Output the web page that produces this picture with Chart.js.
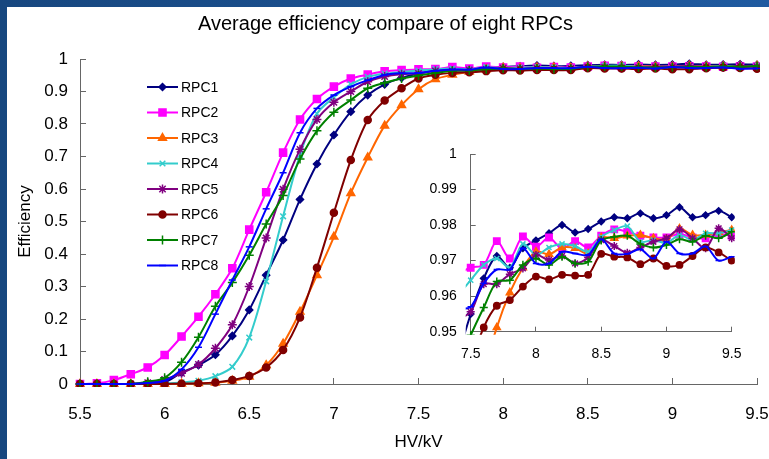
<!DOCTYPE html>
<html>
<head>
<meta charset="utf-8">
<script src="https://cdn.jsdelivr.net/npm/chart.js@4.4.1/dist/chart.umd.min.js"></script>
<style>
  html, body { margin: 0; padding: 0; }
  body { width: 769px; height: 459px; position: relative; overflow: hidden;
         background: linear-gradient(90deg, #17477f, #1f5aa0); }
  #panel { position: absolute; left: 7px; top: 7px; width: 762px; height: 452px; background: #fff; }
  #main { position: absolute; left: 0; top: 0; }
  #inset { position: absolute; left: 400px; top: 140px; }
</style>
</head>
<body>
<div id="panel"></div>
<canvas id="main" width="769" height="459"></canvas>
<canvas id="inset" width="345" height="230"></canvas>
<script>
// HV in kV, one point every 0.1 kV
const hv = [5.5, 5.6, 5.7, 5.8, 5.9, 6.0, 6.1, 6.2, 6.3, 6.4,
            6.5, 6.6, 6.7, 6.8, 6.9, 7.0, 7.1, 7.2, 7.3, 7.4,
            7.5, 7.6, 7.7, 7.8, 7.9, 8.0, 8.1, 8.2, 8.3, 8.4,
            8.5, 8.6, 8.7, 8.8, 8.9, 9.0, 9.1, 9.2, 9.3, 9.4, 9.5];

const rpc1 = [0, 0, 0, 0, 0.002, 0.005, 0.035, 0.058, 0.09, 0.148,
              0.228, 0.335, 0.443, 0.568, 0.677, 0.766, 0.838, 0.889, 0.922, 0.942,
              0.955, 0.965, 0.9713, 0.968, 0.9735, 0.9757, 0.9777, 0.98, 0.9779, 0.9789,
              0.981, 0.9822, 0.9819, 0.9833, 0.9819, 0.9828, 0.985, 0.9822, 0.9828, 0.984, 0.9822];
const rpc2 = [0, 0.002, 0.012, 0.03, 0.051, 0.089, 0.146, 0.207, 0.276, 0.356,
              0.475, 0.59, 0.712, 0.814, 0.877, 0.915, 0.94, 0.952, 0.962, 0.966,
              0.968, 0.9688, 0.9755, 0.9706, 0.9768, 0.9739, 0.9765, 0.9733, 0.9755, 0.9737,
              0.977, 0.9788, 0.9781, 0.977, 0.9765, 0.9765, 0.9775, 0.9765, 0.9763, 0.9775, 0.977];
const rpc3 = [0, 0, 0, 0, 0, 0, 0.001, 0.002, 0.004, 0.01,
              0.022, 0.058, 0.124, 0.222, 0.335, 0.453, 0.587, 0.697, 0.795, 0.858,
              0.907, 0.938, 0.9512, 0.961, 0.968, 0.9725, 0.9718, 0.9737, 0.9735, 0.972,
              0.9765, 0.9763, 0.977, 0.9772, 0.9763, 0.976, 0.979, 0.9772, 0.9772, 0.978, 0.9786];
const rpc4 = [0, 0, 0, 0, 0, 0.002, 0.005, 0.01, 0.024, 0.053,
              0.143, 0.316, 0.516, 0.705, 0.832, 0.882, 0.922, 0.945, 0.955, 0.96,
              0.9645, 0.9688, 0.9706, 0.968, 0.9747, 0.9716, 0.9737, 0.9747, 0.9741, 0.9725,
              0.9767, 0.9786, 0.9797, 0.9753, 0.9758, 0.975, 0.9772, 0.9758, 0.9777, 0.9777, 0.9786];
const rpc5 = [0, 0, 0, 0, 0.004, 0.014, 0.033, 0.06, 0.11, 0.182,
              0.3, 0.449, 0.599, 0.722, 0.814, 0.867, 0.9, 0.93, 0.946, 0.953,
              0.9556, 0.9634, 0.9634, 0.9662, 0.9678, 0.9716, 0.9702, 0.9713, 0.9692, 0.9709,
              0.9758, 0.9741, 0.9722, 0.9737, 0.9753, 0.9763, 0.9788, 0.9763, 0.9735, 0.9791, 0.9763];
const rpc6 = [0, 0, 0, 0, 0, 0, 0.001, 0.002, 0.005, 0.012,
              0.025, 0.051, 0.105, 0.205, 0.358, 0.527, 0.689, 0.812, 0.872, 0.91,
              0.94, 0.9512, 0.9573, 0.9589, 0.9627, 0.9655, 0.9647, 0.966, 0.9658, 0.966,
              0.9719, 0.9711, 0.9709, 0.969, 0.9706, 0.9685, 0.9688, 0.9713, 0.9737, 0.9723, 0.97];
const rpc7 = [0, 0, 0, 0, 0.007, 0.019, 0.067, 0.144, 0.239, 0.312,
              0.396, 0.492, 0.58, 0.692, 0.779, 0.836, 0.874, 0.91, 0.927, 0.94,
              0.949, 0.9568, 0.9641, 0.9645, 0.9688, 0.9706, 0.9688, 0.9711, 0.9692, 0.9697,
              0.9757, 0.9767, 0.977, 0.9747, 0.9737, 0.9744, 0.976, 0.9753, 0.977, 0.9763, 0.9781];
const rpc8 = [0, 0, 0, 0, 0.003, 0.01, 0.045, 0.113, 0.215, 0.32,
              0.422, 0.539, 0.65, 0.773, 0.848, 0.889, 0.915, 0.935, 0.951, 0.956,
              0.957, 0.9636, 0.9675, 0.9675, 0.9735, 0.9692, 0.9692, 0.9725, 0.972, 0.9716,
              0.976, 0.972, 0.9719, 0.9732, 0.9706, 0.9753, 0.972, 0.972, 0.974, 0.97, 0.9711];

const names = ['RPC1', 'RPC2', 'RPC3', 'RPC4', 'RPC5', 'RPC6', 'RPC7', 'RPC8'];
const values = [rpc1, rpc2, rpc3, rpc4, rpc5, rpc6, rpc7, rpc8];
const colors = ['#000080', '#ff00ff', '#ff6600', '#33cccc', '#800080', '#800000', '#008000', '#0000ff'];
const markers = ['rectRot', 'rect', 'triangle', 'crossRot', 'star', 'circle', 'cross', 'line'];
const sizes = [3.5, 5, 4.5, 4, 4.5, 3.5, 4.5, 3.5];

Chart.defaults.font.family = "'Liberation Sans', Arial, sans-serif";
Chart.defaults.color = '#000';

function makeDatasets(scale) {
  return names.map((name, i) => ({
    label: name,
    data: hv.map((x, j) => ({ x: x, y: values[i][j] })),
    borderColor: colors[i],
    backgroundColor: colors[i],
    pointBackgroundColor: colors[i],
    pointBorderColor: colors[i],
    borderWidth: 2,
    pointStyle: markers[i],
    pointRadius: sizes[i] * scale,
    pointBorderWidth: 1.5,
    tension: 0.3,
    order: 8 - i,
    clip: { left: 5, top: 0, right: 3, bottom: 3 }
  }));
}

// plain number labels: 1, 0.9, 6, 6.5 ...
const plain = v => String(Math.round(v * 1000) / 1000);

// legend box inside the plot, like the Excel one
const plotLegend = {
  id: 'plotLegend',
  afterDraw(chart) {
    const ctx = chart.ctx;
    ctx.save();
    ctx.font = "14px 'Liberation Sans', Arial, sans-serif";
    ctx.textBaseline = 'middle';
    names.forEach((name, i) => {
      const y = 87 + i * 25.5;
      ctx.strokeStyle = colors[i];
      ctx.fillStyle = colors[i];
      ctx.lineWidth = 2;
      ctx.beginPath();
      ctx.moveTo(147, y);
      ctx.lineTo(178, y);
      ctx.stroke();
      ctx.lineWidth = 1.5;
      Chart.helpers.drawPoint(ctx, { pointStyle: markers[i], radius: sizes[i], rotation: 0, borderWidth: 1.5 }, 162.5, y);
      ctx.fillStyle = '#000';
      ctx.fillText(name, 181, y + 1);
    });
    ctx.restore();
  }
};

const axisColor = '#666';

new Chart(document.getElementById('main'), {
  type: 'line',
  data: { datasets: makeDatasets(1) },
  options: {
    responsive: false,
    animation: false,
    layout: { padding: { left: 14, top: 8, right: 12, bottom: 0 } },
    plugins: {
      legend: { display: false },
      tooltip: { enabled: false },
      title: {
        display: true,
        text: 'Average efficiency compare of eight RPCs',
        font: { size: 20, weight: 'normal' },
        color: '#000',
        padding: { top: 4, bottom: 23 }
      }
    },
    scales: {
      x: {
        type: 'linear', min: 5.5, max: 9.5,
        ticks: { stepSize: 0.5, padding: 26, maxRotation: 0, font: { size: 17 }, callback: plain },
        grid: { drawOnChartArea: false, tickLength: -6, color: axisColor },
        border: { color: axisColor },
        title: { display: true, text: 'HV/kV', font: { size: 17 }, padding: { top: 0, bottom: 6 } },
        afterFit: s => { s.height = 75; s.paddingLeft = 12; s.paddingRight = 12; }
      },
      y: {
        min: 0, max: 1,
        ticks: { stepSize: 0.1, padding: 18, font: { size: 17 }, callback: plain },
        grid: { drawOnChartArea: false, tickLength: -6, color: axisColor },
        border: { color: axisColor },
        title: { display: true, text: 'Efficiency', font: { size: 17 }, padding: { top: 1, bottom: 0 } },
        afterFit: s => { s.width = 66; s.paddingTop = 10; s.paddingBottom = 10; }
      }
    }
  },
  plugins: [plotLegend]
});

new Chart(document.getElementById('inset'), {
  type: 'line',
  data: { datasets: makeDatasets(0.9) },
  options: {
    responsive: false,
    animation: false,
    layout: { padding: { left: 0, top: 14, right: 13.3, bottom: 0 } },
    plugins: { legend: { display: false }, tooltip: { enabled: false } },
    scales: {
      x: {
        type: 'linear', min: 7.5, max: 9.5,
        ticks: { stepSize: 0.5, padding: 19, maxRotation: 0, font: { size: 14 }, callback: plain },
        grid: { drawOnChartArea: false, tickLength: -5, color: axisColor },
        border: { color: axisColor },
        afterFit: s => { s.height = 38.3; s.paddingLeft = 10; s.paddingRight = 10; }
      },
      y: {
        min: 0.95, max: 1,
        ticks: { stepSize: 0.01, padding: 19, font: { size: 14 }, callback: plain },
        grid: { drawOnChartArea: false, tickLength: -5, color: axisColor },
        border: { color: axisColor },
        afterFit: s => { s.width = 70.7; s.paddingTop = 8; s.paddingBottom = 8; }
      }
    }
  }
});
</script>
</body>
</html>
